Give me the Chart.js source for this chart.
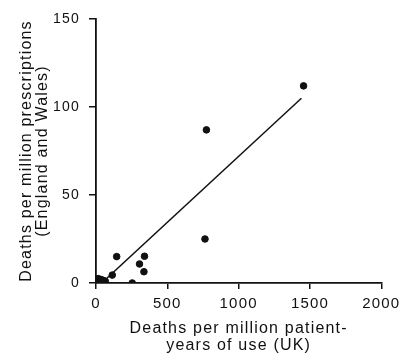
<!DOCTYPE html>
<html>
<head>
<meta charset="utf-8">
<script src="https://cdn.jsdelivr.net/npm/chart.js@4.4.1/dist/chart.umd.min.js"></script>
<style>
  html, body { margin: 0; padding: 0; background: #fff; }
  #wrap { width: 404px; height: 362px; }
</style>
</head>
<body>
<div id="wrap"><canvas id="myChart" width="404" height="362"></canvas></div>
<script>
// deaths per million patient-years (UK) vs deaths per million prescriptions (E&W)
const ukRates = [1455, 774, 764, 145, 340, 305, 336, 254, 114, 5, 15, 25, 35, 50, 65, 20, 45];
const ewRates = [112, 87, 25, 15, 15.2, 10.8, 6.4, 0, 4.5, 1, 2.5, 1, 2, 1.5, 1, 0, 0.5];
const fitX = [40, 1440];
const fitY = [0, 105];
const xTicks = [0, 500, 1000, 1500, 2000];
const yTicks = [0, 50, 100, 150];

const ink = '#111';
const points = ukRates.map((x, i) => ({ x: x, y: ewRates[i] }));
const fitLine = fitX.map((x, i) => ({ x: x, y: fitY[i] }));

// the scanned lettering is wide, so spread the glyphs a little
const wideText = {
  id: 'wideText',
  beforeDraw(chart) { chart.ctx.letterSpacing = '1.2px'; }
};

function initChart() {
  const ctx = document.getElementById('myChart').getContext('2d');
  new Chart(ctx, {
    type: 'scatter',
    data: {
      datasets: [{
        data: points,
        backgroundColor: ink,
        borderColor: ink,
        pointRadius: 3.3,
        pointHoverRadius: 3.3
      }, {
        type: 'line',
        data: fitLine,
        borderColor: ink,
        borderWidth: 1.5,
        pointRadius: 0,
        fill: false
      }]
    },
    plugins: [wideText],
    options: {
      responsive: false,
      animation: false,
      layout: { padding: { top: 19, right: 21, left: 0, bottom: 0 } },
      plugins: { legend: { display: false }, tooltip: { enabled: false } },
      scales: {
        x: {
          type: 'linear',
          min: 0, max: 2000,
          afterBuildTicks: s => { s.ticks = xTicks.map(v => ({ value: v })); },
          afterFit: s => { s.height = 79; },
          border: { color: ink, width: 1.8 },
          grid: { drawOnChartArea: false, color: ink, lineWidth: 1.5, tickLength: 6 },
          ticks: {
            color: ink, padding: 6,
            font: { family: 'Liberation Sans', size: 15 },
            callback: v => String(v)
          },
          title: {
            display: true,
            text: ['Deaths per million patient-', 'years of use (UK)'],
            color: ink,
            font: { family: 'Liberation Sans', size: 16, lineHeight: 17 / 16 },
            padding: { top: 0, bottom: 8 }
          }
        },
        y: {
          type: 'linear',
          min: 0, max: 150,
          afterBuildTicks: s => { s.ticks = yTicks.map(v => ({ value: v })); },
          afterFit: s => { s.width = 96; },
          border: { color: ink, width: 1.8 },
          grid: { drawOnChartArea: false, color: ink, lineWidth: 1.5, tickLength: 7 },
          ticks: {
            color: ink, padding: 9,
            font: { family: 'Liberation Sans', size: 14 },
            callback: v => String(v)
          },
          title: {
            display: true,
            text: ['Deaths per million prescriptions', '(England and Wales)'],
            color: ink,
            font: { family: 'Liberation Sans', size: 16, lineHeight: 1 },
            padding: { top: 19, bottom: 0 }
          }
        }
      }
    }
  });
}

window.addEventListener('load', initChart);
</script>
</body>
</html>
